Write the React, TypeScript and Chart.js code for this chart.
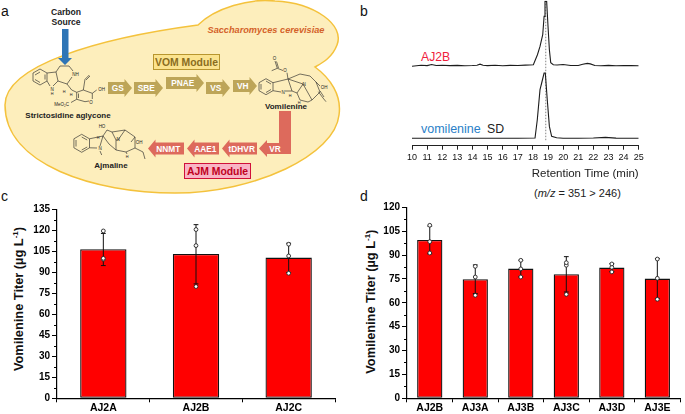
import React, { useEffect, useRef } from "react";
import { Chart, registerables } from "chart.js";

Chart.register(...registerables);

const FONT = '"Liberation Sans", Arial, sans-serif';

// Panel b: chromatograms (retention time in min, relative intensity)
const rtAJ2B = [10, 10.3, 10.6, 11, 11.3, 11.6, 12, 12.5, 13, 13.5, 14, 14.3, 14.5, 14.7, 15, 15.5, 16, 16.5, 17, 17.5, 18.03, 18.3, 18.47, 18.65, 18.74, 18.8, 18.91, 19.0, 19.09, 19.18, 19.35, 19.6, 20, 20.5, 21, 21.3, 21.6, 21.8, 22.1, 22.5, 23, 23.5, 24, 24.5, 25];
const intensityAJ2B = [79.5, 80, 80.4, 80.1, 81.2, 80.2, 80.4, 80.1, 80.3, 80, 80.2, 80.5, 81.5, 80.4, 80.1, 80.4, 80, 80.3, 80.2, 80.6, 81, 91, 99.3, 111, 129.3, 144.3, 144.3, 119.3, 96, 83, 81, 80.7, 81.2, 80.2, 80.2, 81.4, 82.3, 81.8, 80.2, 80, 80.3, 79.9, 80.2, 80.1, 80];
const rtSD = [10, 12, 14, 16, 17, 18.14, 18.29, 18.47, 18.58, 18.74, 18.82, 18.95, 19.09, 19.24, 19.57, 20, 21, 22, 22.8, 23.5, 25];
const intensitySD = [7.4, 7.5, 7.5, 7.5, 7.5, 7.7, 26, 56, 62.7, 72.7, 72.7, 46, 19.3, 9.3, 7.9, 7.5, 7.5, 7.7, 8.3, 7.6, 7.4];
const rtMarker = [18.85, 18.85];
const markerLevels = [5.5, 145];
const rtTicks = { min: 10, max: 25, step: 1 };

// Panel c
const catC = ["AJ2A", "AJ2B", "AJ2C"];
const meanC = [106.7, 103.3, 100.7];
const upperC = [118, 124.3, 111];
const lowerC = [95, 81.9, 90];
const rep1C = [119.8, 120.8, 110.3];
const rep2C = [100.2, 109.3, 101.9];
const rep3C = [99.5, 80, 89.5];

// Panel d
const catD = ["AJ2B", "AJ3A", "AJ3B", "AJ3C", "AJ3D", "AJ3E"];
const meanD = [99.5, 74.8, 81.5, 77.9, 82.1, 75.2];
const upperD = [108.2, 83.8, 86.7, 89, 84.6, 87.8];
const lowerD = [90.8, 65.8, 76.3, 66.8, 79.6, 62.6];
const rep1D = [108.7, 82.9, 86.7, 85.2, 84.4, 87.5];
const rep2D = [98.4, 76.2, 81.3, 83.6, 82.3, 75.4];
const rep3D = [91.3, 64.7, 76.2, 65.3, 79.4, 62.2];

const errorAndMinorPlugin = {
  id: "errorAndMinor",
  afterDatasetDraw(chart: any, args: any) {
    const opts = chart.options.plugins.errorAndMinor;
    if (!opts || args.index !== 0) return;
    const { ctx } = chart;
    const x = chart.scales.x;
    const y = chart.scales.y;
    ctx.save();
    ctx.strokeStyle = "#111";
    ctx.lineWidth = 1;
    opts.upper.forEach((u: number, i: number) => {
      const px = x.getPixelForValue(i);
      const a = y.getPixelForValue(u);
      const b = y.getPixelForValue(opts.lower[i]);
      ctx.beginPath();
      ctx.moveTo(px, a);
      ctx.lineTo(px, b);
      ctx.moveTo(px - 2.4, a);
      ctx.lineTo(px + 2.4, a);
      ctx.moveTo(px - 2.4, b);
      ctx.lineTo(px + 2.4, b);
      ctx.stroke();
    });
    ctx.restore();
  },
  afterDraw(chart: any) {
    const opts = chart.options.plugins.errorAndMinor;
    if (!opts) return;
    const { ctx } = chart;
    const y = chart.scales.y;
    ctx.save();
    ctx.strokeStyle = "#000";
    ctx.lineWidth = 1;
    for (let v = 7.5; v < y.max; v += 15) {
      const p = Math.round(y.getPixelForValue(v)) + 0.5;
      ctx.beginPath();
      ctx.moveTo(chart.chartArea.left - 3, p);
      ctx.lineTo(chart.chartArea.left, p);
      ctx.stroke();
    }
    ctx.restore();
  },
};

function barConfig(
  cats: string[], mean: number[], upper: number[], lower: number[],
  r1: number[], r2: number[], r3: number[], yMax: number,
  leftW: number, top: number, bottomH: number, right: number, barPct: number,
): any {
  const rep = (data: number[], label: string) => ({
    type: "line", label, data, showLine: false, order: 0,
    pointRadius: 1.9, pointBorderWidth: 0.9,
    pointBackgroundColor: "#fff", pointBorderColor: "#222",
  });
  return {
    type: "bar",
    data: {
      labels: cats,
      datasets: [
        { type: "bar", label: "Titer", data: mean, order: 5, backgroundColor: "#ff0000", borderColor: "#111", borderWidth: 1.3, borderSkipped: false, barPercentage: barPct, categoryPercentage: 1 },
        rep(r1, "Replicate 1"), rep(r2, "Replicate 2"), rep(r3, "Replicate 3"),
      ],
    },
    options: {
      animation: false, responsive: false, maintainAspectRatio: false,
      layout: { padding: { left: 0, top, right, bottom: 0 } },
      plugins: {
        legend: { display: false }, tooltip: { enabled: false }, title: { display: false },
        errorAndMinor: { upper, lower },
      },
      scales: {
        x: {
          type: "category", offset: true,
          afterFit: (s: any) => { s.height = bottomH; },
          grid: { display: true, offset: true, drawOnChartArea: false, drawTicks: true, tickLength: 4, tickColor: "#000", tickWidth: 1 },
          border: { display: true, color: "#000", width: 1.2 },
          ticks: { color: "#000", font: { family: FONT, size: 10.5, weight: "bold" }, padding: 0, autoSkip: false, maxRotation: 0 },
        },
        y: {
          type: "linear", min: 0, max: yMax,
          afterFit: (s: any) => { s.width = leftW; },
          grid: { display: true, drawOnChartArea: false, drawTicks: true, tickLength: 5, tickColor: "#000", tickWidth: 1 },
          border: { display: true, color: "#000", width: 1.2 },
          ticks: { stepSize: 15, color: "#000", font: { family: FONT, size: 10, weight: "bold" }, padding: 2, autoSkip: false },
        },
      },
    },
    plugins: [errorAndMinorPlugin],
  };
}

function chromConfig(): any {
  const toXY = (xs: number[], ys: number[]) => xs.map((x, i) => ({ x, y: ys[i] }));
  return {
    type: "line",
    data: {
      datasets: [
        { label: "retention marker", data: toXY(rtMarker, markerLevels), borderColor: "#666", borderWidth: 0.8, borderDash: [1.5, 1.5], pointRadius: 0, order: 3 },
        { label: "AJ2B", data: toXY(rtAJ2B, intensityAJ2B), borderColor: "#1c1c1c", borderWidth: 1.1, pointRadius: 0, tension: 0, order: 1 },
        { label: "vomilenine SD", data: toXY(rtSD, intensitySD), borderColor: "#1c1c1c", borderWidth: 1.1, pointRadius: 0, tension: 0, order: 1 },
      ],
    },
    options: {
      animation: false, responsive: false, maintainAspectRatio: false,
      layout: { padding: { left: 72, right: 46.3, top: 0.7, bottom: 0 } },
      plugins: { legend: { display: false }, tooltip: { enabled: false } },
      scales: {
        x: {
          type: "linear", min: rtTicks.min, max: rtTicks.max,
          afterFit: (s: any) => { s.height = 205 - 145.7; },
          grid: { display: true, drawOnChartArea: false, drawTicks: true, tickLength: 4, tickColor: "#222", tickWidth: 1 },
          border: { display: true, color: "#222", width: 1 },
          ticks: { stepSize: rtTicks.step, color: "#111", font: { family: FONT, size: 9 }, padding: 2, autoSkip: false, maxRotation: 0 },
          title: { display: true, text: "Retention Time (min)", align: "end", color: "#222", font: { family: FONT, size: 11.5 }, padding: { top: 0, bottom: 24 } },
        },
        y: { type: "linear", display: false, min: 0, max: 145 },
      },
    },
  };
}

type ArrowProps = { x1: number; x2: number; cy: number; label: string; color: string; hh?: number; bh?: number };
// x1 = tail, x2 = tip
function Arrow({ x1, x2, cy, label, color, hh = 9, bh = 6 }: ArrowProps) {
  const dir = x2 > x1 ? 1 : -1;
  const neck = x2 - dir * 7.5;
  const pts = [[x1, cy - bh], [neck, cy - bh], [neck, cy - hh], [x2, cy], [neck, cy + hh], [neck, cy + bh], [x1, cy + bh]];
  const mid = (x1 + neck) / 2 + dir * 1.5;
  return (
    <g>
      <polygon points={pts.map((p) => p.join(",")).join(" ")} fill={color} />
      <text x={mid} y={cy + 3} textAnchor="middle" fill="#fff" fontWeight="bold" fontSize="8.3" fontFamily={FONT}>{label}</text>
    </g>
  );
}

function YTitle({ x, y }: { x: number; y: number }) {
  return (
    <text transform={`translate(${x},${y}) rotate(-90)`} y="4.5" textAnchor="middle" fontWeight="bold" fontSize="12.8" fontFamily={FONT} fill="#111">
      Vomilenine Titer (µg L<tspan fontSize="8" dy="-4.5">-1</tspan><tspan dy="4.5">)</tspan>
    </text>
  );
}

function Schematic() {
  const gold = "#bda558";
  const red = "#dd6a5c";
  const mol = { fill: "none", stroke: "#2a2a2a", strokeWidth: 0.65, strokeLinejoin: "round" as const };
  const t = (x: number, y: number, s: string, size = 4.5) => (
    <text x={x} y={y} textAnchor="middle" fontSize={size} fill="#222" fontFamily={FONT}>{s}</text>
  );
  return (
    <svg width={685} height={414} style={{ position: "absolute", left: 0, top: 0, pointerEvents: "none" }}>
      <path d="M198,25 C215,8 250,-2 275,1 C315,3 345,25 337,45 C332,58 322,63 315,67 C330,78 342,95 339,115 C335,155 255,193 175,193 C95,193 5,165 5,105 C5,65 100,38 198,25 Z" fill="#fdeebc" stroke="#f4c23c" strokeWidth="1.5" />
      <text x="1" y="16" fontSize="14" fontFamily={FONT} fill="#111">a</text>
      <text x="360" y="16" fontSize="14" fontFamily={FONT} fill="#111">b</text>
      <text x="1" y="201" fontSize="14" fontFamily={FONT} fill="#111">c</text>
      <text x="360" y="201" fontSize="14" fontFamily={FONT} fill="#111">d</text>

      <text x="66" y="15" textAnchor="middle" fontWeight="bold" fontSize="8.6" fontFamily={FONT} fill="#222">Carbon</text>
      <text x="66" y="25" textAnchor="middle" fontWeight="bold" fontSize="8.6" fontFamily={FONT} fill="#222">Source</text>
      <polygon points="62,29 68.5,29 68.5,58 72,58 65,65 58,58 62,58" fill="#2e75b6" />
      <text x="266" y="33" textAnchor="middle" fontWeight="bold" fontStyle="italic" fontSize="9.2" fontFamily={FONT} fill="#d4622a">Saccharomyces cerevisiae</text>

      <rect x="153.5" y="54.5" width="66" height="15" fill="#fbe38e" stroke="#b8962e" strokeWidth="1" />
      <text x="186.5" y="65.5" textAnchor="middle" fontWeight="bold" fontSize="10.4" fontFamily={FONT} fill="#8a6d1e">VOM Module</text>
      <rect x="184.5" y="163.5" width="66" height="15" fill="#f9b4c5" stroke="#d0103a" strokeWidth="1" />
      <text x="217.5" y="174.5" textAnchor="middle" fontWeight="bold" fontSize="10.4" fontFamily={FONT} fill="#c00020">AJM Module</text>

      <Arrow x1={108} x2={132} cy={88} label="GS" color={gold} />
      <Arrow x1={134} x2={163} cy={88} label="SBE" color={gold} />
      <Arrow x1={166} x2={204} cy={83} label="PNAE" color={gold} />
      <Arrow x1={206} x2={230} cy={88} label="VS" color={gold} />
      <Arrow x1={233} x2={257} cy={86} label="VH" color={gold} />

      <polygon points="279,111 291,111 291,154 267,154 267,157 259,148.5 267,140 267,143 279,143" fill={red} />
      <text x="275" y="151.5" textAnchor="middle" fill="#fff" fontWeight="bold" fontSize="8.3" fontFamily={FONT}>VR</text>
      <Arrow x1={257} x2={222} cy={148.5} label="tDHVR" color={red} />
      <Arrow x1={219} x2={187} cy={148.5} label="AAE1" color={red} />
      <Arrow x1={184} x2={148} cy={148.5} label="NNMT" color={red} />

      {/* Strictosidine aglycone */}
      <path {...mol} d="M33,73 L40,69 L47,73 L47,81 L40,85 L33,81 Z M35,75 L40,72 M45,74.5 L45,79.5 M35,79.5 L40,82.5 M47,73 L56,72 L58,81 L53,86 M50,86 L47,81 M56,72 L60,66 L69,66 L73,71 M72,77 L67,84 L58,81 M67,84 L71.7,90 L76.7,92.3 L83.3,90 L92.3,93.3 L92.3,99 M89,101 L85,101.7 L76.7,99.3 L76.7,92.3 M78.5,98 L78.5,93.5 M83.3,90 L85,79.3 L89.3,75 M86,80 L90,76 M76.7,99.3 L71,102.5 M92.3,93.3 L96.7,90" />
      {t(52, 91, "N")}{t(52, 95, "H", 3.8)}{t(75.5, 76, "NH")}{t(61.7, 106, "MeO₂C")}{t(101.5, 90.5, "OH")}{t(91, 103.5, "O")}{t(64, 93, "H", 3.8)}{t(71, 95.5, "H", 3.8)}
      <text x="68" y="118" textAnchor="middle" fontWeight="bold" fontSize="8" fontFamily={FONT} fill="#222">Strictosidine aglycone</text>

      {/* Vomilenine */}
      <path {...mol} d="M266,78.7 L273,82.7 L273,90.7 L266,94.7 L259,90.7 L259,82.7 Z M266,81 L271,84 M261,84 L261,89.5 M266,92.5 L271,89.5 M273,82.7 L288,79 L292,91 L285,91 M281,92 L273,90.7 M288,79 L300,74 L310,76 L316,82 L320,92 L312,100 L303,84 L288,79 M303,84 L297,93 L292,91 M297,93 L300,100 L308,102 L312,100 M316,82 L320,86 M271.7,70.7 L277.3,68.3 L283,70.5 M277.3,68.3 L275,61 M278.5,68 L276.5,61.5 M287,72.7 L288,79 M318.3,91.7 L323,98 L326,101.7 M320,91 L324,97" />
      {t(285, 72, "O")}{t(274.5, 60, "O")}{t(283, 94, "N")}{t(324, 88.5, "OH")}{t(304, 86, "N")}{t(290, 97, "H", 3.8)}{t(299, 104, "H", 3.8)}
      <text x="286" y="109" textAnchor="middle" fontWeight="bold" fontSize="8" fontFamily={FONT} fill="#222">Vomilenine</text>

      {/* Ajmaline */}
      <path {...mol} d="M81.7,134.3 L89.5,138.8 L89.5,147.8 L81.7,152.3 L73.9,147.8 L73.9,138.8 Z M81.7,137 L87.2,140 M76,140 L76,146.5 M81.7,150 L87.2,147 M89.5,138.8 L103,136 L100,146 M97,148 L89.5,147.8 M100,151 L101.7,155 M103,136 L107,130 L112,132 L125,130 L135,137 L135,148 L126,152 L116,150 L109,144 L103,136 M112,132 L116,140 L116,150 M125,130 L118,140 L116,140 M135,137 L131,142 M135,148 L143,152 L145,159 M126,152 L127,154" />
      {t(102, 127.5, "HO")}{t(100, 149.5, "N")}{t(139, 144, "OH")}{t(118, 141, "N")}{t(98, 139, "H", 3.8)}{t(127, 158, "H", 3.8)}
      <text x="111" y="168" textAnchor="middle" fontWeight="bold" fontSize="8" fontFamily={FONT} fill="#222">Ajmaline</text>

      {/* Panel b labels */}
      <text x="421" y="61" fontSize="12.2" fontFamily={FONT} fill="#f0203c">AJ2B</text>
      <text x="421" y="133" fontSize="12.5" fontFamily={FONT} fill="#2a7fc8">vomilenine</text>
      <text x="487" y="133" fontSize="12.3" fontFamily={FONT} fill="#222">SD</text>
      <text x="534" y="197" fontSize="11" fontFamily={FONT} fill="#222">(<tspan fontStyle="italic">m/z</tspan> = 351 &gt; 246)</text>

      <YTitle x={18.3} y={299} />
      <YTitle x={370} y={301.7} />
    </svg>
  );
}

function useChart(make: () => any) {
  const ref = useRef<HTMLCanvasElement | null>(null);
  useEffect(() => {
    if (!ref.current) return;
    const c = new Chart(ref.current, make());
    return () => c.destroy();
  }, []);
  return ref;
}

export default function App() {
  const refB = useChart(chromConfig);
  const refC = useChart(() =>
    barConfig(catC, meanC, upperC, lowerC, rep1C, rep2C, rep3C, 135, 57, 19.7, 15.7, 5, 0.5));
  const refD = useChart(() =>
    barConfig(catD, meanD, upperD, lowerD, rep1D, rep2D, rep3D, 120, 67, 17.3, 15.7, 0.4, 0.555));
  const abs = (left: number, top: number, w: number, h: number): React.CSSProperties => ({ position: "absolute", left, top, width: w, height: h, display: "block" });
  return (
    <div style={{ position: "absolute", left: 0, top: 0, width: 685, height: 414, background: "#fff", overflow: "hidden" }}>
      <Schematic />
      <canvas ref={refB} width={345} height={205} style={abs(340, 0, 345, 205)} />
      <canvas ref={refC} width={340} height={224} style={abs(0, 190, 340, 224)} />
      <canvas ref={refD} width={345} height={224} style={abs(340, 190, 345, 224)} />
    </div>
  );
}
